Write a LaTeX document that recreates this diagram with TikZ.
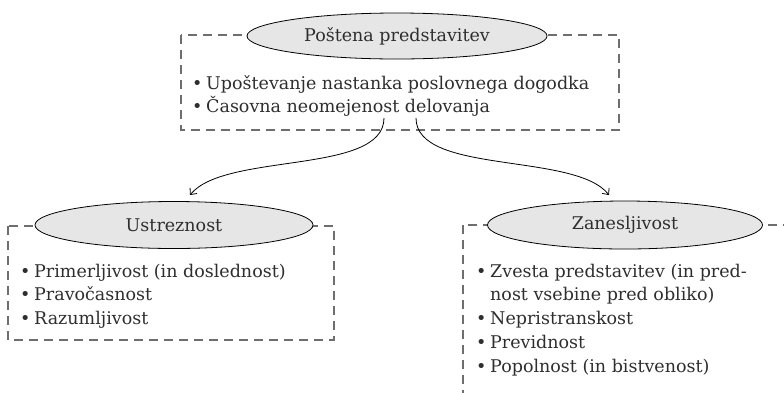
\documentclass[tikz,border=0pt]{standalone}
\usepackage{fontspec}
\setmainfont{DejaVu Serif}
\usetikzlibrary{shapes.geometric}
\usetikzlibrary{arrows.meta}
\definecolor{boxgray}{HTML}{6E6E6E}
\definecolor{ovalfill}{HTML}{E6E6E6}
\definecolor{inkgray}{HTML}{2E2E2E}
\tikzset{
	titlestyle/.style={ellipse, draw=black, line width=0.8pt, fill=ovalfill, inner sep=0pt, text=inkgray, font=\fontsize{17.5}{21}\selectfont},
	groupbox/.style={draw=boxgray, line width=1.1pt, dash pattern=on 9pt off 6pt},
	itemstyle/.style={anchor=base west, inner sep=0pt, text=inkgray, font=\fontsize{17.5}{21}\selectfont},
	linkstyle/.style={-{Straight Barb[length=5pt,width=9pt]}, line width=0.8pt, black}
}
\newcommand{\bul}{\makebox[14pt][l]{\textbullet}}

\begin{document}
\begin{tikzpicture}[x=1pt, y=-1pt]

\def\ldist{23.8}

\useasboundingbox (0,0) rectangle (784,392);
\clip (0,0) rectangle (784,392);

% dashed group frames
\draw[groupbox] (181,35) rectangle (619,130);
\draw[groupbox] (8,226) rectangle (334,340);
\draw[groupbox] (463,225) rectangle (840,440);

% titles
\node[titlestyle, minimum width=300, minimum height=46] (fair) at (397,36) {Poštena predstavitev};
\node[titlestyle, minimum width=278, minimum height=47] (ustr) at (174,225) {Ustreznost};
\node[titlestyle, minimum width=275, minimum height=48] (zan) at (625,225) {Zanesljivost};

% items
\node[itemstyle] (f1) at (192,89)  {\bul Upoštevanje nastanka poslovnega dogodka};
\node[itemstyle] (f2) at (192,112) {\bul Časovna neomejenost delovanja};

\node[itemstyle] (u1) at (20,277)             {\bul Primerljivost (in doslednost)};
\node[itemstyle] (u2) at (20,277 + \ldist)    {\bul Pravočasnost};
\node[itemstyle] (u3) at (20,277 + 2*\ldist)  {\bul Razumljivost};

\node[itemstyle] (z1) at (476,277)            {\bul Zvesta predstavitev (in pred-};
\node[itemstyle] (z2) at (490,277 + \ldist)   {nost vsebine pred obliko)};
\node[itemstyle] (z3) at (476,277 + 2*\ldist) {\bul Nepristranskost};
\node[itemstyle] (z4) at (476,277 + 3*\ldist) {\bul Previdnost};
\node[itemstyle] (z5) at (476,277 + 4*\ldist) {\bul Popolnost (in bistvenost)};

% links
\coordinate (ls) at (384,118);
\coordinate (lt) at (190,195);
\coordinate (rs) at (416,118);
\coordinate (rt) at (609,195);

\draw[linkstyle] (ls) .. controls (384,175) and (225,152) .. (lt);
\draw[linkstyle] (rs) .. controls (416,175) and (575,152) .. (rt);
\end{tikzpicture}
\end{document}
